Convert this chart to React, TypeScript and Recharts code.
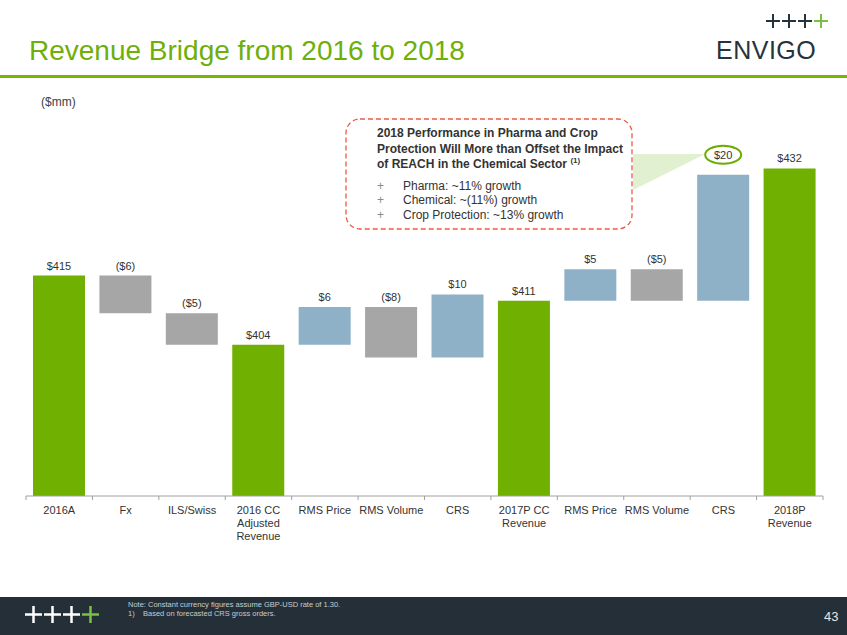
import { BarChart, Bar, XAxis, YAxis, Cell, LabelList } from 'recharts';

// categories, deltas and totals
const categories = [
  '2016A', 'Fx', 'ILS/Swiss', '2016 CC|Adjusted|Revenue', 'RMS Price', 'RMS Volume',
  'CRS', '2017P CC|Revenue', 'RMS Price', 'RMS Volume', 'CRS', '2018P|Revenue',
];
const kinds = ['total', 'neg', 'neg', 'total', 'pos', 'neg', 'pos', 'total', 'pos', 'neg', 'pos', 'total'];
const values = [415, -6, -5, 404, 6, -8, 10, 411, 5, -5, 20, 432];
const labels = ['$415', '($6)', '($5)', '$404', '$6', '($8)', '$10', '$411', '$5', '($5)', '$20', '$432'];

const AXIS_FLOOR = 380;
const AXIS_TOP = 440;

const GREEN = '#70b000';
const GRAY = '#a6a6a6';
const BLUE = '#8fb1c7';
const FONT = '"Liberation Sans", Arial, sans-serif';

const PLOT_LEFT = 26;
const PLOT_RIGHT = 823;
const BAND = (PLOT_RIGHT - PLOT_LEFT) / categories.length;
const AXIS_H = 50;
const CIRCLED = 10; // the $20 label sits inside the callout ellipse

// build floating ranges for the bridge
let running = 0;
const data = categories.map((name, i) => {
  let range: [number, number];
  if (kinds[i] === 'total') {
    running = values[i];
    range = [AXIS_FLOOR, values[i]];
  } else {
    const start = running;
    running = start + values[i];
    range = [Math.min(start, running), Math.max(start, running)];
  }
  return { name, range, label: labels[i], kind: kinds[i] };
});

const colorFor = (kind: string) => (kind === 'total' ? GREEN : kind === 'neg' ? GRAY : BLUE);

function CategoryTick(props: any) {
  const { x, y, payload, index } = props;
  const lines = String(payload.value).split('|');
  return (
    <g>
      <line x1={x - BAND / 2} x2={x - BAND / 2} y1={y - 8} y2={y - 4} stroke="#a0a0a0" />
      {index === categories.length - 1 && (
        <line x1={x + BAND / 2} x2={x + BAND / 2} y1={y - 8} y2={y - 4} stroke="#a0a0a0" />
      )}
      <text x={x} y={y + 10} textAnchor="middle" fill="#333" fontSize={11} fontFamily={FONT}>
        {lines.map((l, k) => (
          <tspan key={k} x={x} dy={k === 0 ? 0 : 13}>{l}</tspan>
        ))}
      </text>
    </g>
  );
}

function BarLabel(props: any) {
  const { x, y, width, value, index } = props;
  const lift = index === CIRCLED ? 16 : 6;
  const cx = x + width / 2;
  const cy = y - lift;
  return (
    <g>
      {index === CIRCLED && (
        <ellipse cx={cx} cy={cy - 4} rx={18} ry={9} fill="none" stroke="#6aad00" strokeWidth={2} />
      )}
      <text x={cx} y={cy} textAnchor="middle" fill="#333" fontSize={11} fontFamily={FONT}>{value}</text>
    </g>
  );
}

function Pluses({ x, y, size, stroke, color, last }: { x: number; y: number; size: number; stroke: number; color: string; last: string }) {
  const step = size + 2;
  return (
    <>
      {[0, 1, 2, 3].map((k) => {
        const cx = x + k * step + size / 2;
        const cy = y + size / 2;
        const c = k === 3 ? last : color;
        return (
          <g key={k} stroke={c} strokeWidth={stroke}>
            <line x1={cx - size / 2} x2={cx + size / 2} y1={cy} y2={cy} />
            <line x1={cx} x2={cx} y1={cy - size / 2} y2={cy + size / 2} />
          </g>
        );
      })}
    </>
  );
}

export default function App() {
  return (
    <div style={{ position: 'absolute', left: 0, top: 0, width: 847, height: 635, background: '#fff', fontFamily: FONT, overflow: 'hidden' }}>
      {/* header */}
      <div style={{ position: 'absolute', left: 29, top: 35, fontSize: 28, color: '#6eaf0a', whiteSpace: 'nowrap' }}>
        Revenue Bridge from 2016 to 2018
      </div>
      <div style={{ position: 'absolute', left: 0, top: 75, width: 847, height: 3, background: '#76b500' }} />
      <div style={{ position: 'absolute', left: 41, top: 95, fontSize: 12, color: '#404040' }}>($mm)</div>

      {/* logo */}
      <div style={{ position: 'absolute', left: 716, top: 36, fontSize: 25, color: '#26323c', letterSpacing: 0.5 }}>ENVIGO</div>

      <svg style={{ position: 'absolute', left: 0, top: 0 }} width={847} height={635}>
        <polygon points="633,154 705,154 633,190" fill="#d9ecc4" opacity={0.8} />
      </svg>

      <div style={{ position: 'absolute', left: 0, top: 0 }}>
        <BarChart
          width={847}
          height={635}
          data={data}
          barSize={52}
          margin={{ top: 118, bottom: 635 - 496 - AXIS_H, left: PLOT_LEFT, right: 847 - PLOT_RIGHT }}
        >
          <XAxis
            dataKey="name"
            axisLine={{ stroke: '#a0a0a0' }}
            tickLine={false}
            tick={<CategoryTick />}
            interval={0}
            height={AXIS_H}
          />
          <YAxis hide domain={[AXIS_FLOOR, AXIS_TOP]} allowDataOverflow />
          <Bar dataKey="range" isAnimationActive={false}>
            {data.map((d, i) => (
              <Cell key={i} fill={colorFor(d.kind)} />
            ))}
            <LabelList dataKey="label" content={<BarLabel />} />
          </Bar>
        </BarChart>
      </div>

      {/* callout box and logos */}
      <svg style={{ position: 'absolute', left: 0, top: 0 }} width={847} height={635}>
        <Pluses x={766} y={14} size={14} stroke={2} color="#26323c" last="#7ac143" />
        <rect x={346} y={119} width={286} height={110} rx={14} ry={14} fill="#fff" stroke="#ee5a45" strokeWidth={1.3} strokeDasharray="5 3" />
        <rect x={0} y={597} width={847} height={38} fill="#252f38" />
        <Pluses x={25} y={606} size={17} stroke={2.5} color="#ffffff" last="#7ac143" />
      </svg>
      <div style={{ position: 'absolute', left: 377, top: 126, fontSize: 12, fontWeight: 700, color: '#333', lineHeight: '15.5px', width: 250 }}>
        2018 Performance in Pharma and Crop<br />
        Protection Will More than Offset the Impact<br />
        of REACH in the Chemical Sector <sup style={{ fontSize: 8, lineHeight: 0 }}>(1)</sup>
      </div>
      <div style={{ position: 'absolute', left: 377, top: 179, fontSize: 12, color: '#333', lineHeight: '14.3px' }}>
        {['Pharma: ~11% growth', 'Chemical: ~(11%) growth', 'Crop Protection: ~13% growth'].map((t) => (
          <div key={t} style={{ display: 'flex' }}>
            <span style={{ width: 26, color: '#8a8a8a' }}>+</span>
            <span>{t}</span>
          </div>
        ))}
      </div>

      {/* footer text */}
      <div style={{ position: 'absolute', left: 128, top: 600, fontSize: 7.5, color: '#c8ccd0', lineHeight: '9px' }}>
        Note: Constant currency figures assume GBP-USD rate of 1.30.<br />
        1)&nbsp;&nbsp;&nbsp;&nbsp;Based on forecasted CRS gross orders.
      </div>
      <div style={{ position: 'absolute', left: 824, top: 609, fontSize: 13, color: '#e6e6e6' }}>43</div>
    </div>
  );
}
